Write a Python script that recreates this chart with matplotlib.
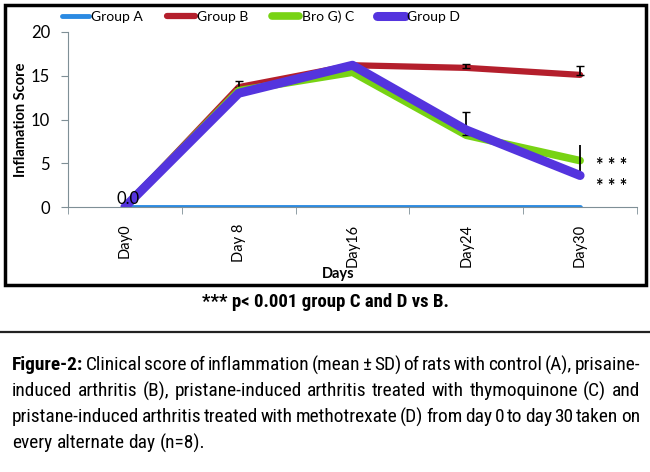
import matplotlib
matplotlib.use('Agg')
import matplotlib.pyplot as plt
from matplotlib import font_manager
from matplotlib.patches import Rectangle
from matplotlib.lines import Line2D

# data
days = ['Day0', 'Day 8', 'Day16', 'Day24', 'Day30']
group_a = [0, 0, 0, 0, 0]
group_b = [0, 13.7, 16.2, 15.9, 15.1]
group_c = [0, 13.3, 15.4, 8.2, 5.3]
group_d = [0, 13.0, 16.2, 8.8, 3.6]
err_b = [0, 0.7, 0, 0.5, 1.0]
err_c = [0, 0, 0, 2.7, 1.8]
labels = ['Group A', 'Group B', 'Bro G) C', 'Group D']

caption = [
    "Clinical score of inflammation (mean \u00b1 SD) of rats with control (A), prisaine-",
    "induced arthritis (B), pristane-induced arthritis treated with thymoquinone (C) and",
    "pristane-induced arthritis treated with methotrexate (D) from day 0 to day 30 taken on",
    "every alternate day (n=8).",
]

names = set(f.name for f in font_manager.fontManager.ttflist)
narrow = 'Lato'
for cand in ['Liberation Sans Narrow', 'Roboto Condensed', 'Open Sans Condensed', 'Arial Narrow']:
    if cand in names:
        narrow = cand
        break
plt.rcParams['font.family'] = ['Lato', 'DejaVu Sans']

fig = plt.figure(figsize=(6.5, 4.72), dpi=100)
W, H = 650, 472

def fx(px):
    return px / W

def fy(py):
    return 1 - py / H

# outer chart frame
fig.patches.append(Rectangle((fx(5), fy(285)), fx(641), 280 / H, transform=fig.transFigure,
                             fill=False, ec='black', lw=2.5))
# horizontal rule above caption
fig.lines.append(Line2D([0, 1], [fy(332), fy(332)], transform=fig.transFigure, color='#222222', lw=1.6))

ax = fig.add_axes([fx(68), fy(207), fx(569), 175 / H])
x = list(range(len(days)))
ax.plot(x, group_a, color='#2b8ae2', lw=3.5, solid_capstyle='round', label=labels[0])
ax.plot(x, group_b, color='#b41f2c', lw=4.5, solid_capstyle='round', label=labels[1])
ax.errorbar(x, group_b, yerr=[[0] * 5, err_b], fmt='none', ecolor='black', elinewidth=1.3, capsize=3)
ax.plot(x, group_c, color='#78d314', lw=5.5, solid_capstyle='round', label=labels[2])
ax.errorbar(x[3:4], group_c[3:4], yerr=[[0], err_c[3:4]], fmt='none', ecolor='black', elinewidth=1.3, capsize=3)
ax.errorbar(x[4:5], group_c[4:5], yerr=err_c[4:5], fmt='none', ecolor='black', elinewidth=1.3, capsize=0)
ax.plot(x, group_d, color='#5434de', lw=6.5, solid_capstyle='round', label=labels[3])

ax.set_xlim(-0.5, 4.5)
ax.set_ylim(0, 20)
ax.set_yticks([0, 5, 10, 15, 20])
ax.tick_params(axis='y', labelsize=12, color='#7f8f96', length=5, pad=8)
ax.set_xticks(x)
ax.set_xticklabels(days, rotation=90, fontsize=10.5)
ax.tick_params(axis='x', length=0, pad=12)
ax.set_xticks([-0.5, 0.5, 1.5, 2.5, 3.5, 4.5], minor=True)
ax.tick_params(axis='x', which='minor', length=5, color='#7f8f96')
for s in ['top', 'right']:
    ax.spines[s].set_visible(False)
ax.spines['left'].set_color('#7f8f96')
ax.spines['bottom'].set_color('#7f8f96')
ax.set_ylabel('Inflamation Score', fontsize=10.5, fontweight='bold')
ax.yaxis.set_label_coords((28 - 68) / 569, 0.5)
ax.set_xlabel('Days', fontsize=10.5, fontweight='bold', va='center')
ax.xaxis.set_label_coords(0.475, (207 - 274) / 175)

ax.text(0.03, 0.0, '0.0', fontsize=12, ha='center', va='bottom')
ax.text(4.28, 4.7, '* * *', fontsize=13, fontweight='bold', ha='center', va='center')
ax.text(4.28, 2.3, '* * *', fontsize=13, fontweight='bold', ha='center', va='center')

ax.legend(loc='center', bbox_to_anchor=(0.339, (fy(17) - fy(207)) / (175 / H)), ncol=4,
          frameon=False, fontsize=10, handlelength=2.0, columnspacing=1.7, handletextpad=0.15)

fig.text(0.5, fy(302), '*** p< 0.001 group C and D vs B.', family=narrow, fontsize=13.5,
         fontweight='bold', ha='center', va='center')

# justified caption, font sized so line one fits the width with tight gaps
fig.canvas.draw()
renderer = fig.canvas.get_renderer()
left, right = 12, 640
line_y = [365, 391, 417, 443]
first = [('Figure-2:', 'bold')] + [(w, 'normal') for w in caption[0].split(' ')]
wsum = 0
for w, weight in first:
    probe = fig.text(0, 0, w, family=narrow, fontsize=12, fontweight=weight)
    wsum += probe.get_window_extent(renderer).width
    probe.remove()
fs = 12 * (right - left - 2.5 * (len(first) - 1)) / wsum
for i, line in enumerate(caption):
    items = []
    if i == 0:
        items.append(('Figure-2:', 'bold'))
    items += [(w, 'normal') for w in line.split(' ')]
    texts = []
    total = 0
    for w, weight in items:
        t = fig.text(0, fy(line_y[i]), w, family=narrow, fontsize=fs, fontweight=weight, va='center')
        wpx = t.get_window_extent(renderer).width
        texts.append((t, wpx))
        total += wpx
    if i < len(caption) - 1:
        gap = (right - left - total) / (len(items) - 1)
    else:
        gap = fs * 0.3
    pos = left
    for t, wpx in texts:
        t.set_x(fx(pos))
        pos += wpx + gap

fig.savefig('out.png', dpi=100)
